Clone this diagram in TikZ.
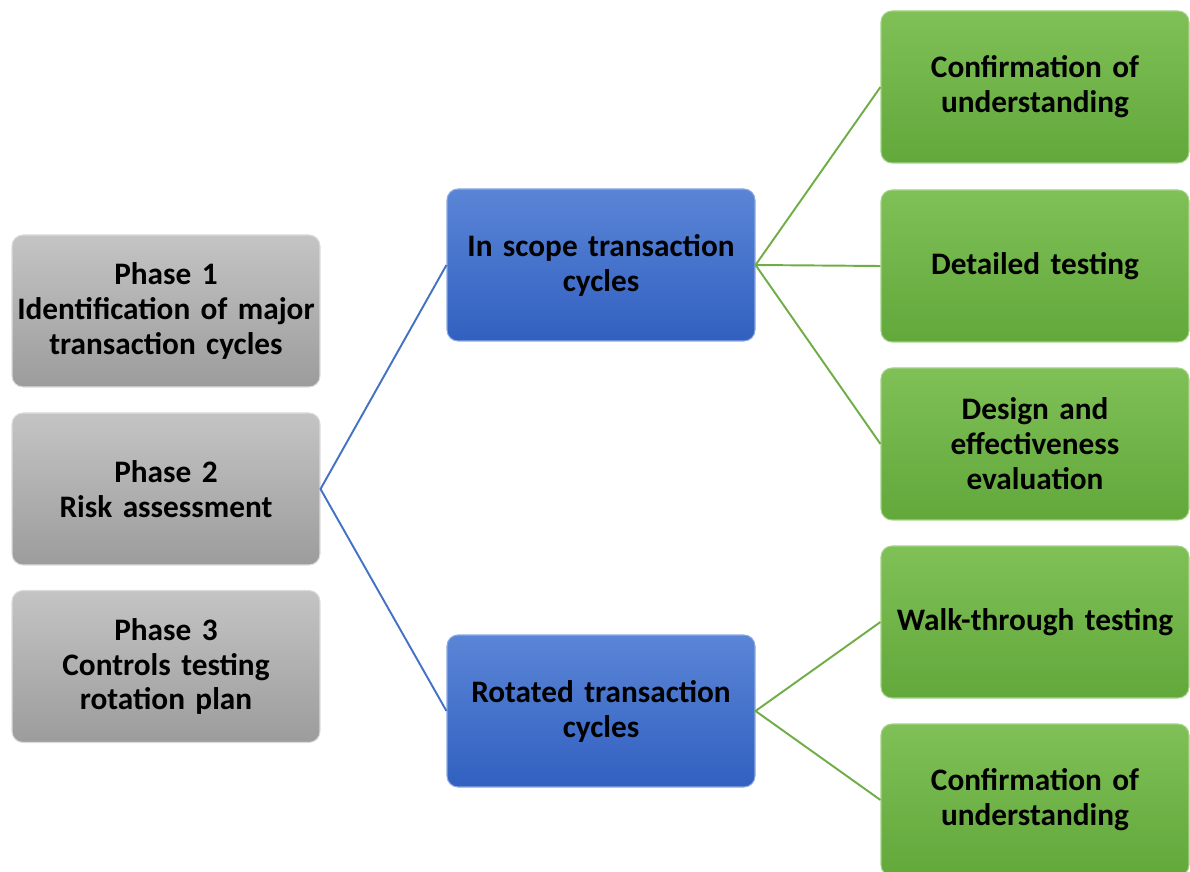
\documentclass[tikz,border=0pt]{standalone}
\usepackage{fontspec}
\setmainfont{Carlito}
\usepackage{tikz}
\usetikzlibrary{positioning}

\definecolor{phasetop}{HTML}{C4C4C4}
\definecolor{phasebot}{HTML}{9C9C9C}
\definecolor{cycletop}{HTML}{5A85D6}
\definecolor{cyclebot}{HTML}{3160C0}
\definecolor{steptop}{HTML}{7FC057}
\definecolor{stepbot}{HTML}{62A83B}
\definecolor{cycleline}{HTML}{4472C4}
\definecolor{stepline}{HTML}{70AD47}

\tikzset{
    box/.style={rounded corners=0.22cm, minimum width=6.16cm, minimum height=3.04cm,
        inner xsep=0pt, align=center, text width=6.16cm,
        font=\fontsize{17.8}{19.9}\selectfont\bfseries},
    phasebox/.style={box, top color=phasetop, bottom color=phasebot, draw=phasetop!60!white, line width=0.6pt},
    cyclebox/.style={box, top color=cycletop, bottom color=cyclebot, draw=cycletop!70!white, line width=0.6pt},
    stepbox/.style={box, top color=steptop, bottom color=stepbot, draw=steptop!70!white, line width=0.6pt},
    cyclelink/.style={draw=cycleline, line width=1.1pt},
    steplink/.style={draw=stepline, line width=1.1pt},
}

\begin{document}
\begin{tikzpicture}
    \useasboundingbox (0, 0) rectangle (23.8, -17.44);
    \clip (0, 0) rectangle (23.8, -17.44);

    % phases
    \node[phasebox] (phase1) at (3.32, -6.22) {Phase 1\\Identification of major\\transaction cycles};
    \node[phasebox] (phase2) at (3.32, -9.78) {Phase 2\\Risk assessment};
    \node[phasebox] (phase3) at (3.32, -13.33) {Phase 3\\Controls testing\\rotation plan};

    % cycles
    \node[cyclebox] (inscope) at (12.02, -5.30) {In scope transaction\\cycles};
    \node[cyclebox] (rotated) at (12.02, -14.22) {Rotated transaction\\cycles};

    % steps
    \node[stepbox] (confirm1) at (20.7, -1.74) {Confirmation of\\understanding};
    \node[stepbox] (detail) at (20.7, -5.32) {Detailed testing};
    \node[stepbox] (design) at (20.7, -8.88) {Design and\\effectiveness\\evaluation};
    \node[stepbox] (walk) at (20.7, -12.44) {Walk-through testing};
    \node[stepbox] (confirm2) at (20.7, -16.0) {Confirmation of\\understanding};

    \draw[cyclelink] (inscope.west) -- (phase2.east) -- (rotated.west);
    \draw[steplink] (confirm1.west) -- (inscope.east) -- (detail.west);
    \draw[steplink] (inscope.east) -- (design.west);
    \draw[steplink] (walk.west) -- (rotated.east) -- (confirm2.west);
\end{tikzpicture}
\end{document}
